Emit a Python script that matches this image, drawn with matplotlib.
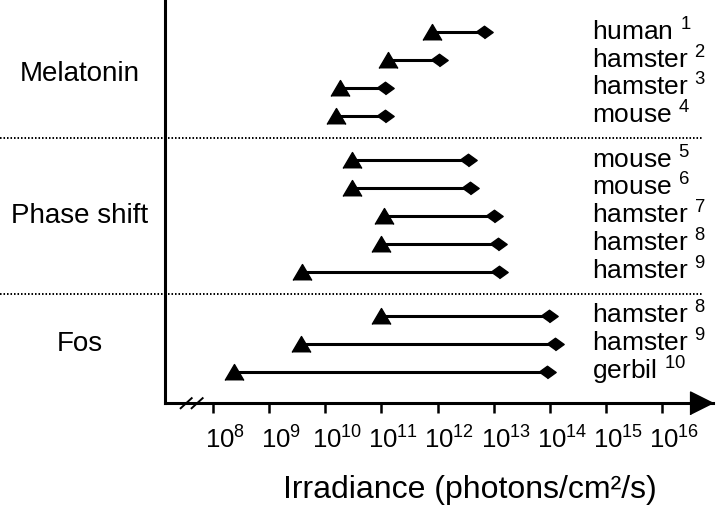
import numpy as np
import matplotlib
matplotlib.use("Agg")
from matplotlib import pyplot as plt
from matplotlib.ticker import FixedLocator, NullLocator
from matplotlib.transforms import ScaledTranslation

plt.rcParams['font.family'] = ['Liberation Sans', 'DejaVu Sans']
plt.rcParams['mathtext.fontset'] = 'custom'
plt.rcParams['mathtext.rm'] = 'Liberation Sans'
plt.rcParams['mathtext.it'] = 'Liberation Sans:italic'
plt.rcParams['mathtext.bf'] = 'Liberation Sans:bold'

# log10 irradiance (photons/cm2/s): threshold (triangle) and saturation (diamond)
groups = ['Melatonin', 'Phase shift', 'Fos']
group_of_row = [0, 0, 0, 0, 1, 1, 1, 1, 1, 2, 2, 2]
species = ['human', 'hamster', 'hamster', 'mouse',
           'mouse', 'mouse', 'hamster', 'hamster', 'hamster',
           'hamster', 'hamster', 'gerbil']
refs = [1, 2, 3, 4, 5, 6, 7, 8, 9, 8, 9, 10]
low_exp = [11.90, 11.11, 10.26, 10.20,
           10.47, 10.47, 11.05, 10.99, 9.59,
           10.99, 9.57, 8.37]
high_exp = [12.82, 12.02, 11.07, 11.07,
            12.54, 12.58, 13.01, 13.07, 13.09,
            13.99, 14.10, 13.95]
tick_exp = list(range(8, 17))

# row positions: one unit per row, extra gap between groups
row_y = np.arange(len(species)) + 0.6 * np.array(group_of_row)

fig = plt.figure(figsize=(7.2, 5.08), dpi=100)
ax = fig.add_axes([165 / 720, 105 / 508, 548 / 720, 403 / 508])

tri = [(-1, -0.85), (0, 0.85), (1, -0.85)]
dia = [(-1, 0), (0, 0.72), (1, 0), (0, -0.72)]

low = 10.0 ** np.array(low_exp)
high = 10.0 ** np.array(high_exp)
for y, lo, hi in zip(row_y, low, high):
    ax.plot([lo, hi], [y, y], color='black', lw=2.2, solid_capstyle='butt', zorder=2)
ax.plot(high, row_y, ls='none', marker=dia, ms=12.5, color='black', zorder=3)
ax.plot(low, row_y, ls='none', marker=tri, ms=13.5, color='black', zorder=4)

ax.set_xscale('log')
ax.set_xlim(10 ** 7.144, 10 ** 16.909)
ax.set_ylim(row_y[-1] + 1.126, row_y[0] - 1.162)
ax.xaxis.set_major_locator(FixedLocator([10.0 ** e for e in tick_exp]))
ax.xaxis.set_minor_locator(NullLocator())
ax.set_xticklabels(['$10^{%d}$' % e for e in tick_exp], fontsize=18.5)
ax.tick_params(axis='x', direction='out', length=7.5, width=1.8, pad=9)
shift = ScaledTranslation(12 / 100, 0, fig.dpi_scale_trans)
for lab in ax.get_xticklabels():
    lab.set_transform(lab.get_transform() + shift)
ax.set_yticks([])

for s in ['top', 'right']:
    ax.spines[s].set_visible(False)
ax.spines['left'].set_linewidth(2.2)
ax.spines['bottom'].set_linewidth(2.2)

# arrow head on x axis
arrow = [(0, 0), (-1, 0.5), (-1, -0.5)]
ax.plot(1, 0, marker=arrow, ms=33, color='black', transform=ax.transAxes, clip_on=False)

# axis break marks
for dx in [0.0, 0.02]:
    ax.plot([0.0286 + dx, 0.0487 + dx], [-0.013, 0.012], color='black', lw=1.4,
            transform=ax.transAxes, clip_on=False)

# dotted separators
trans = ax.get_yaxis_transform()
for g in range(1, len(groups)):
    idx = group_of_row.index(g)
    ysep = (row_y[idx - 1] + row_y[idx]) / 2
    ax.plot([-0.301, 0.982], [ysep, ysep], color='black', lw=1.4,
            ls=(0, (0.8, 1.0)), transform=trans, clip_on=False)

# group labels
for g, name in enumerate(groups):
    ys = [y for y, gg in zip(row_y, group_of_row) if gg == g]
    ax.text(-0.155, np.mean(ys), name, transform=trans, ha='center', va='center',
            fontsize=20)

# species labels
down = ScaledTranslation(0, -8 / 100, fig.dpi_scale_trans)
for y, sp, r in zip(row_y, species, refs):
    ax.text(0.779, y, sp + ' $^{%d}$' % r, transform=trans + down,
            ha='left', va='baseline', fontsize=19)

fig.text(470 / 720, 10 / 508, 'Irradiance (photons/cm²/s)', ha='center',
         va='baseline', fontsize=23)

fig.savefig('out.png', dpi=100)
